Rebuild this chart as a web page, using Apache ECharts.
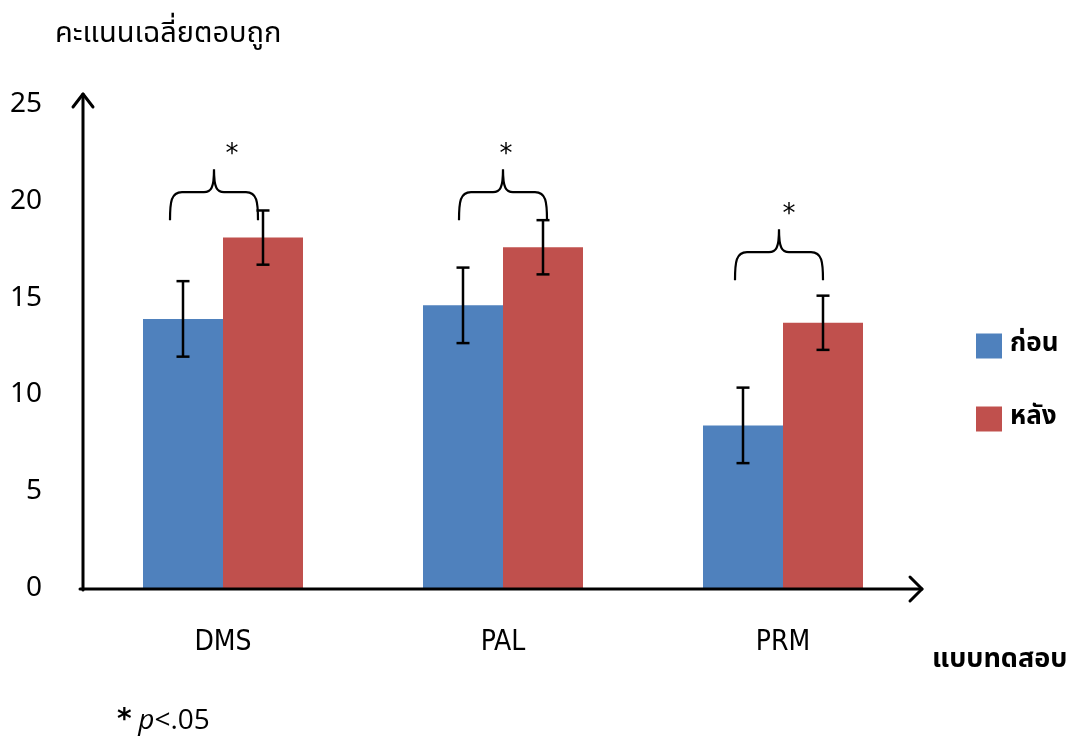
<!DOCTYPE html>
<html>
<head>
<meta charset="utf-8">
<script src="https://cdn.jsdelivr.net/npm/echarts@6/dist/echarts.min.js"></script>
<style>
  html, body { margin: 0; padding: 0; background: #ffffff; }
  #chart { width: 1074px; height: 738px; }
</style>
</head>
<body>
<div id="chart"></div>
<script>
// Test scores before / after, mean with error range
const categories = ['DMS', 'PAL', 'PRM'];
const seriesNames = ['ก่อน', 'หลัง'];
const beforeMean = [13.9, 14.6, 8.4];
const beforeErr = [1.95, 1.95, 1.95];
const afterMean = [18.1, 17.6, 13.7];
const afterErr = [1.4, 1.4, 1.4];
// height (in score units) where each significance brace starts
const braceLevel = [19.0, 19.0, 15.9];
const yAxisTitle = 'คะแนนเฉลี่ยตอบถูก';
const xAxisTitle = 'แบบทดสอบ';
const footnoteMark = '*';
const footnoteP = 'p';
const footnoteRest = '<.05';

const THAI = "'Noto Sans Thai', 'Noto Sans Thai UI', Loma, Garuda, 'Tlwg Typo', 'Noto Sans', sans-serif";
const BLUE = '#4F81BD';
const RED = '#C0504D';
const GAP = 0.42857;                  // barCategoryGap as fraction
const braceNudge = [-9, 0, -4];       // horizontal nudge of braces, px
const starNudge = [9, 3, 6];          // horizontal nudge of asterisks, px

const chart = echarts.init(document.getElementById('chart'), null, { renderer: 'canvas' });

function errorBars(means, errs, side) {
  return {
    type: 'custom',
    silent: true,
    z: 10,
    data: means.map((m, i) => [i, m - errs[i], m + errs[i]]),
    encode: { x: 0, y: [1, 2] },
    renderItem(params, api) {
      const band = api.size([1, 0])[0];
      const dx = side * band * (1 - GAP) / 4;
      const lo = api.coord([api.value(0), api.value(1)]);
      const hi = api.coord([api.value(0), api.value(2)]);
      const x = lo[0] + dx;
      const cap = 6.5;
      const st = { stroke: '#000', lineWidth: 2.5 };
      return {
        type: 'group',
        children: [
          { type: 'line', shape: { x1: x, y1: hi[1], x2: x, y2: lo[1] }, style: st },
          { type: 'line', shape: { x1: x - cap, y1: hi[1], x2: x + cap, y2: hi[1] }, style: st },
          { type: 'line', shape: { x1: x - cap, y1: lo[1], x2: x + cap, y2: lo[1] }, style: st }
        ]
      };
    }
  };
}

const braceSeries = {
  type: 'custom',
  silent: true,
  z: 10,
  data: braceLevel.map((v, i) => [i, v]),
  encode: { x: 0, y: 1 },
  renderItem(params, api) {
    const i = api.value(0);
    const p = api.coord([i, api.value(1)]);
    const cx = p[0] + braceNudge[i];
    const yb = p[1];
    const ys = yb - 28;
    const yp = ys - 23;
    const w = 44;
    const x0 = cx - w, x1 = cx + w;
    const d =
      `M${x0},${yb} C${x0},${ys + 10} ${x0 + 1},${ys} ${x0 + 12},${ys} ` +
      `L${cx - 10},${ys} C${cx - 3},${ys} ${cx},${ys - 4} ${cx},${yp} ` +
      `C${cx},${ys - 4} ${cx + 3},${ys} ${cx + 10},${ys} ` +
      `L${x1 - 12},${ys} C${x1 - 1},${ys} ${x1},${ys + 10} ${x1},${yb}`;
    return {
      type: 'group',
      children: [
        { type: 'path', shape: { pathData: d }, style: { fill: 'none', stroke: '#000', lineWidth: 2.2 } },
        {
          type: 'text',
          style: {
            text: '*', x: cx - braceNudge[i] + starNudge[i], y: yp - 14,
            align: 'center', verticalAlign: 'middle',
            font: "26px 'DejaVu Sans', sans-serif", fill: '#000'
          }
        }
      ]
    };
  }
};

chart.setOption({
  animation: false,
  backgroundColor: '#ffffff',
  grid: { left: 83, right: 151, top: 104, bottom: 150 },
  legend: {
    data: seriesNames,
    orient: 'vertical',
    left: 971,
    top: 328,
    itemWidth: 26,
    itemHeight: 25,
    itemGap: 47,
    icon: 'rect',
    selectedMode: false,
    textStyle: { fontFamily: THAI, fontSize: 26, fontWeight: 'bold', color: '#000', padding: [0, 0, 0, 3] }
  },
  xAxis: {
    type: 'category',
    data: categories,
    axisLine: { show: false },
    axisTick: { show: false },
    axisLabel: { margin: 41, fontSize: 28, color: '#000', fontFamily: "'DejaVu Sans Condensed', 'Liberation Sans Narrow', 'Liberation Sans', sans-serif" },
    splitLine: { show: false }
  },
  yAxis: {
    type: 'value',
    min: 0,
    max: 25,
    interval: 5,
    axisLine: { show: false },
    axisTick: { show: false },
    splitLine: { show: false },
    axisLabel: { margin: 41, fontSize: 28, color: '#000', fontFamily: "'Noto Sans', sans-serif" }
  },
  series: [
    { name: seriesNames[0], type: 'bar', data: beforeMean, barGap: 0, barCategoryGap: (GAP * 100) + '%', itemStyle: { color: BLUE }, silent: true },
    { name: seriesNames[1], type: 'bar', data: afterMean, barGap: 0, barCategoryGap: (GAP * 100) + '%', itemStyle: { color: RED }, silent: true },
    errorBars(beforeMean, beforeErr, -1),
    errorBars(afterMean, afterErr, 1),
    braceSeries
  ]
});

// Axis lines with open arrowheads, titles and footnote
function drawDecorations() {
  const rect = chart.getModel().getComponent('grid').coordinateSystem.getRect();
  const xL = rect.x;
  const xR = rect.x + rect.width;
  const y0 = chart.convertToPixel({ yAxisIndex: 0 }, 0) + 1;
  const yT = chart.convertToPixel({ yAxisIndex: 0 }, 25) - 10;
  const ax = { stroke: '#000', lineWidth: 3, lineCap: 'round', lineJoin: 'round', fill: 'none' };
  chart.setOption({
    graphic: [
      { type: 'polyline', shape: { points: [[xL, y0 + 1], [xL, yT]] }, style: ax, z: 20 },
      { type: 'polyline', shape: { points: [[xL - 10, yT + 13], [xL, yT], [xL + 10, yT + 13]] }, style: ax, z: 20 },
      { type: 'polyline', shape: { points: [[xL - 3, y0], [xR - 1, y0]] }, style: ax, z: 20 },
      { type: 'polyline', shape: { points: [[xR - 13, y0 - 12], [xR - 1, y0], [xR - 13, y0 + 12]] }, style: ax, z: 20 },
      {
        type: 'text', left: 55, top: 22, z: 20,
        style: { text: yAxisTitle, font: `29px ${THAI}`, fill: '#000' }
      },
      {
        type: 'text', left: 932, top: 648, z: 20,
        style: { text: xAxisTitle, font: `bold 27px ${THAI}`, fill: '#000' }
      },
      {
        type: 'text', left: 117, top: 707, z: 20,
        style: {
          text: `{m|${footnoteMark}}  {p|${footnoteP}}{t|${footnoteRest}}`,
          rich: {
            m: { font: "bold 28px 'DejaVu Sans', sans-serif", fill: '#000' },
            p: { font: "italic 28px 'Open Sans', sans-serif", fill: '#000' },
            t: { font: "28px 'Open Sans', sans-serif", fill: '#000' }
          }
        }
      }
    ]
  });
}
drawDecorations();
</script>
</body>
</html>
